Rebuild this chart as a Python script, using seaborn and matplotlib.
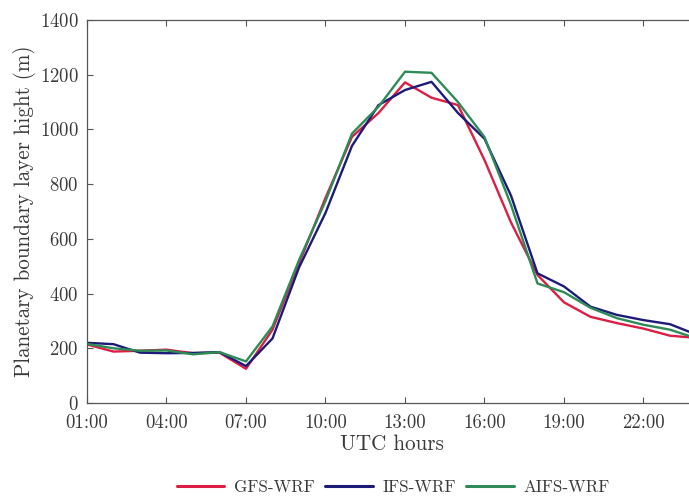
import numpy as np
import pandas as pd
import matplotlib
matplotlib.use("Agg")
import matplotlib.pyplot as plt
import seaborn as sns
from matplotlib.lines import Line2D

hours = list(range(1, 25))
tick_hours = [1, 4, 7, 10, 13, 16, 19, 22]
tick_labels = ["01:00", "04:00", "07:00", "10:00", "13:00", "16:00", "19:00", "22:00"]

gfs = [214, 188, 191, 195, 182, 184, 125, 268, 510, 750, 973, 1060, 1172, 1116, 1089,
       888, 660, 468, 368, 315, 292, 272, 246, 238]
ifs = [220, 215, 184, 182, 183, 186, 135, 236, 495, 695, 940, 1089, 1144, 1174, 1060,
       966, 758, 474, 426, 352, 322, 303, 288, 250]
aifs = [216, 200, 191, 192, 178, 186, 152, 280, 522, 738, 985, 1083, 1211, 1207, 1100,
        972, 724, 437, 405, 348, 310, 286, 268, 236]
series_names = ["GFS-WRF", "IFS-WRF", "AIFS-WRF"]
colors = ["#DC1E45", "#1C1C78", "#2E8B57"]

df = pd.DataFrame({
    "hour": hours * 3,
    "pbl": gfs + ifs + aifs,
    "model": [series_names[0]] * 24 + [series_names[1]] * 24 + [series_names[2]] * 24,
})

sns.set_style("ticks")
plt.rcParams["font.family"] = ["serif"]
plt.rcParams["font.serif"] = ["cmr10", "DejaVu Serif"]
plt.rcParams["mathtext.fontset"] = "cm"
plt.rcParams["axes.formatter.use_mathtext"] = True

fig = plt.figure(figsize=(6.89, 4.96), dpi=100)
ax = fig.add_axes([87 / 689, 1 - 403 / 496, (696.5 - 87) / 689, (403 - 20) / 496])

sns.lineplot(data=df, x="hour", y="pbl", hue="model", palette=dict(zip(series_names, colors)),
             linewidth=1.7, ax=ax, legend=False)

ax.set_xlim(1, 24)
ax.set_ylim(0, 1400)
ax.set_xticks(tick_hours)
ax.set_xticklabels(tick_labels)
ax.set_yticks(range(0, 1401, 200))
txt = "#3a3a3a"
ax.tick_params(direction="in", top=True, right=True, length=4, width=0.8,
               labelsize=13.5, colors="#555555", labelcolor=txt)
ax.tick_params(axis="x", pad=8)
ax.tick_params(axis="y", pad=6)
for s in ax.spines.values():
    s.set_color("#555555")
    s.set_linewidth(0.9)
ax.set_xlabel("UTC hours", fontsize=15.2, color=txt, labelpad=2)
ax.set_ylabel("Planetary boundary layer hight (m)", fontsize=15.2, color=txt, labelpad=3)

handles = [Line2D([0], [0], color=c, lw=2.2) for c in colors]
fig.legend(handles, series_names, loc="center", bbox_to_anchor=(393 / 689, 1 - 487 / 496),
           ncol=3, frameon=False, fontsize=12.3, handlelength=2.8, handletextpad=0.55,
           columnspacing=0.6, labelcolor=txt)

fig.savefig("out.png", dpi=100)
